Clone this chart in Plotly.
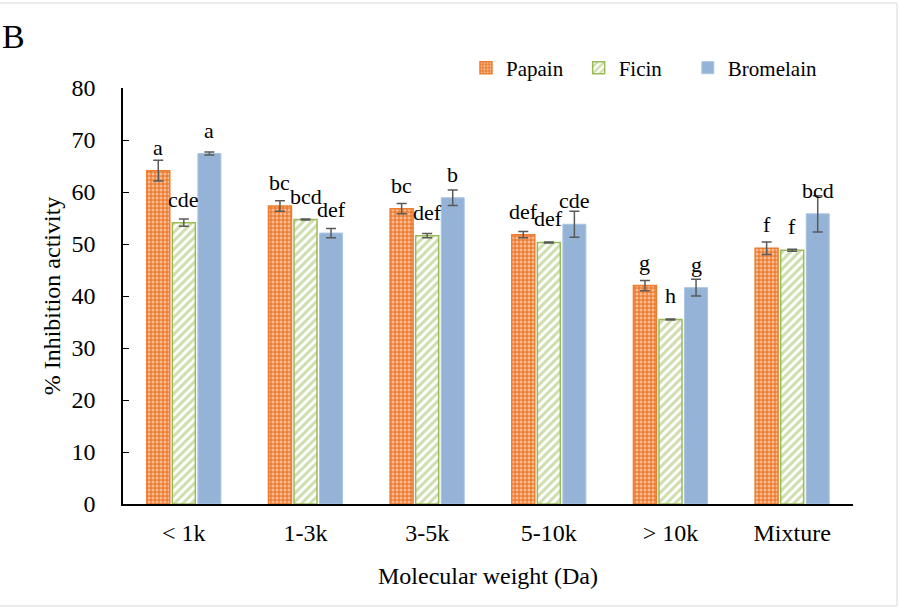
import plotly.graph_objects as go

categories = ["< 1k", "1-3k", "3-5k", "5-10k", "> 10k", "Mixture"]
papain = [64.1, 57.3, 56.8, 51.8, 42.0, 49.2]
papain_err = [2.0, 1.0, 1.0, 0.6, 1.0, 1.2]
ficin = [54.1, 54.7, 51.6, 50.3, 35.5, 48.8]
ficin_err = [0.7, 0.1, 0.4, 0.1, 0.1, 0.2]
bromelain = [67.4, 52.1, 58.9, 53.8, 41.6, 55.8]
bromelain_err = [0.3, 0.9, 1.5, 2.5, 1.6, 3.5]
papain_letters = ["a", "bc", "bc", "def", "g", "f"]
ficin_letters = ["cde", "bcd", "def", "def", "h", "f"]
bromelain_letters = ["a", "def", "b", "cde", "g", "bcd"]

FONT = "Times New Roman, Liberation Serif, serif"
ORANGE = "#ED7D31"
GREEN = "#9BBB59"
BLUE = "#95B3D7"
ERR = "#595959"

BARGAP = 0.37
BARGROUPGAP = 0.1
PAD = "\u00a0"

fig = go.Figure()
fig.add_trace(go.Bar(
    name="Papain" + PAD * 2, x=categories, y=papain,
    error_y=dict(type="data", array=papain_err, color=ERR, thickness=1.5, width=5),
    marker=dict(color=ORANGE, line=dict(color=ORANGE, width=1.5),
                pattern=dict(shape=".", fgcolor="white", bgcolor=ORANGE, size=4, solidity=0.45)),
))
fig.add_trace(go.Bar(
    name="Ficin" + PAD * 4, x=categories, y=ficin,
    error_y=dict(type="data", array=ficin_err, color=ERR, thickness=1.5, width=5),
    marker=dict(color="white", line=dict(color=GREEN, width=1.5),
                pattern=dict(shape="/", fgcolor=GREEN, bgcolor="white", size=6, solidity=0.5)),
))
fig.add_trace(go.Bar(
    name="Bromelain", x=categories, y=bromelain,
    error_y=dict(type="data", array=bromelain_err, color=ERR, thickness=1.5, width=5),
    marker=dict(color=BLUE, line=dict(color="#A9C4E2", width=1)),
))

slot = (1 - BARGAP) / 3
for j, (vals, letters) in enumerate([(papain, papain_letters), (ficin, ficin_letters), (bromelain, bromelain_letters)]):
    for i, (v, t) in enumerate(zip(vals, letters)):
        fig.add_annotation(x=i + (j - 1) * slot, y=v, text=t, showarrow=False,
                           yanchor="bottom", yshift=9,
                           font=dict(family=FONT, size=22, color="black"))

fig.add_annotation(text="B", xref="paper", yref="paper", x=(0 - 123) / 730, y=(504 - 36) / 416,
                   xanchor="left", yanchor="middle", showarrow=False,
                   font=dict(family=FONT, size=34, color="black"))

fig.add_shape(type="rect", xref="paper", yref="paper",
              x0=(-2 - 123) / 730, x1=(897 - 123) / 730,
              y0=(504 - 606) / 416, y1=(504 - 3) / 416,
              line=dict(color="#D9D9D9", width=1))

fig.update_layout(
    width=899, height=608,
    margin=dict(l=123, r=46, t=88, b=104),
    paper_bgcolor="white", plot_bgcolor="white",
    barmode="group", bargap=BARGAP, bargroupgap=BARGROUPGAP,
    font=dict(family=FONT, size=24, color="black"),
    legend=dict(orientation="h", x=(466 - 123) / 730, y=(504 - 68) / 416, xanchor="left", yanchor="middle",
                font=dict(family=FONT, size=21), itemwidth=30, traceorder="normal",
                bgcolor="rgba(0,0,0,0)"),
    xaxis=dict(showline=True, linecolor="black", linewidth=1.5, ticks="",
               tickfont=dict(family=FONT, size=24), ticklabelstandoff=6,
               title=dict(text="Molecular weight (Da)", font=dict(family=FONT, size=24), standoff=23)),
    yaxis=dict(range=[0, 80], dtick=10, showline=True, linecolor="black", linewidth=1.5,
               ticks="inside", ticklen=6, tickcolor="black", showgrid=False, zeroline=False,
               tickfont=dict(family=FONT, size=24), ticklabelstandoff=21,
               title=dict(text="% Inhibition activity", font=dict(family=FONT, size=24), standoff=4)),
)

fig.write_html("out.html", config={"displayModeBar": False},
               post_script="document.body.style.margin='0px';")
